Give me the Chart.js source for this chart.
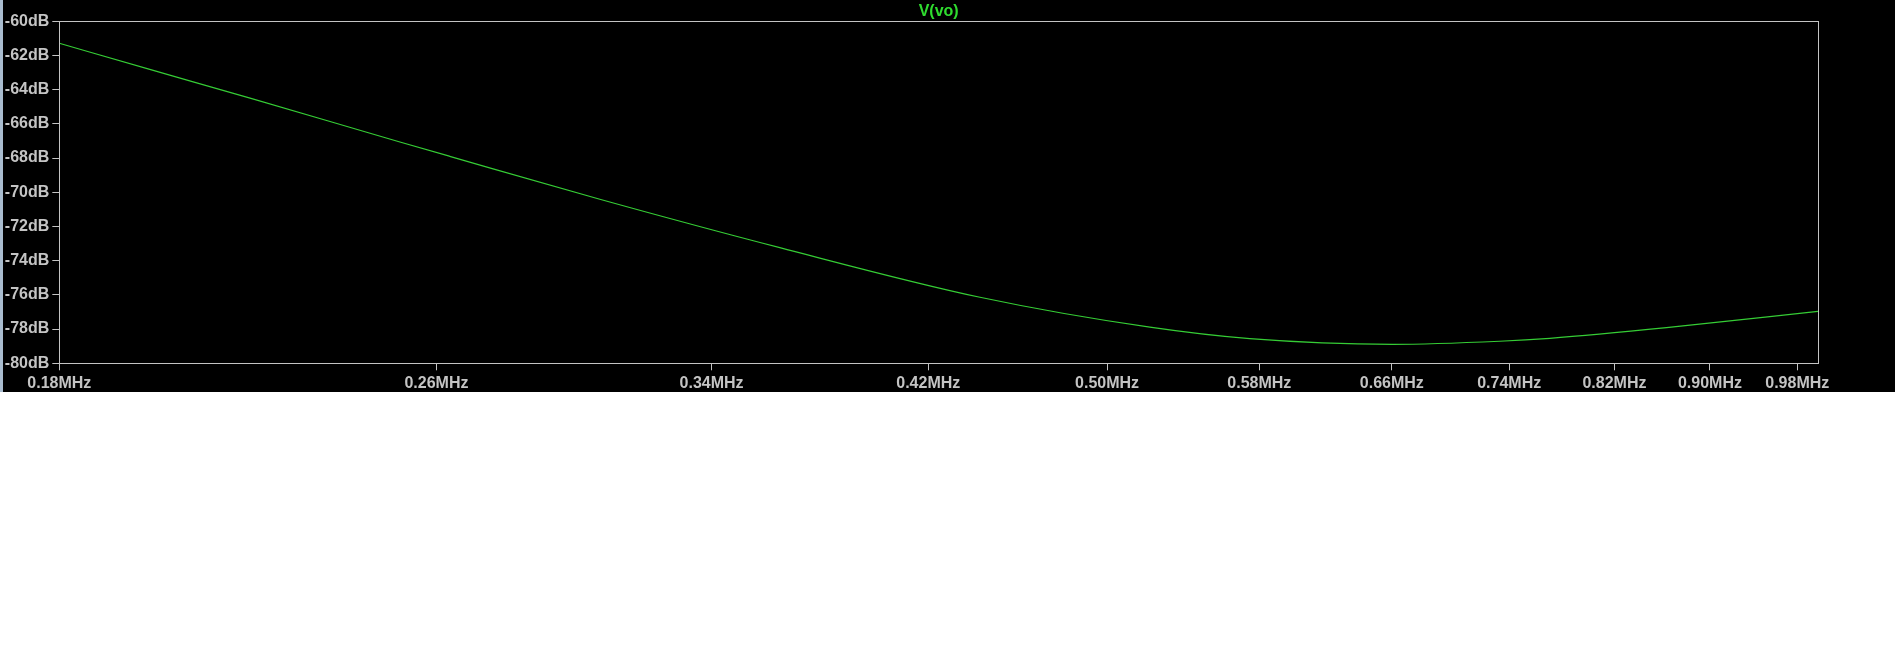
<!DOCTYPE html>
<html>
<head>
<meta charset="utf-8">
<script src="https://cdn.jsdelivr.net/npm/chart.js@4.4.0/dist/chart.umd.min.js"></script>
<style>
  html, body { margin: 0; padding: 0; background: #fff; }
  #wrap { width: 1892px; height: 392px; background: #000; border-left: 3px solid #a9bccf; }
</style>
</head>
<body>
<div id="wrap"><canvas id="plot" width="1892" height="392"></canvas></div>
<script>
// frequency sweep (MHz, dB)
const freqMHz = [0.18, 0.1966, 0.2168, 0.2509, 0.2634, 0.3049, 0.3634, 0.4417, 0.5213, 0.5746, 0.6606, 0.7332, 0.7699, 0.8627, 1.0];
const magDb   = [-61.29, -62.82, -64.5, -67.06, -67.9, -70.41, -73.24, -76.14, -77.89, -78.56, -78.89, -78.71, -78.54, -77.92, -76.96];
const xTickMHz = [0.18, 0.26, 0.34, 0.42, 0.50, 0.58, 0.66, 0.74, 0.82, 0.90, 0.98];
const traceName = 'V(vo)';

const grey = '#c4c4c4';
const font = { family: 'Liberation Sans, Arial', size: 16, weight: 'bold' };

// box around the plot area (LTspice style frame)
const frame = {
  id: 'frame',
  afterDraw(chart) {
    const a = chart.chartArea, c = chart.ctx;
    c.save();
    c.strokeStyle = grey;
    c.lineWidth = 1;
    c.strokeRect(Math.round(a.left) + 0.5, Math.round(a.top) + 0.5, Math.round(a.right - a.left), Math.round(a.bottom - a.top));
    c.restore();
  }
};

new Chart(document.getElementById('plot'), {
  type: 'line',
  data: {
    datasets: [{
      label: traceName,
      data: freqMHz.map((f, i) => ({ x: f, y: magDb[i] })),
      borderColor: '#35cc35',
      borderWidth: 1.2,
      pointRadius: 0,
      cubicInterpolationMode: 'monotone'
    }]
  },
  options: {
    responsive: false,
    animation: false,
    layout: { padding: { left: 0, right: 77, top: 0, bottom: 0 } },
    plugins: {
      legend: { display: false },
      tooltip: { enabled: false },
      title: {
        display: true,
        text: traceName,
        color: '#2fdc2f',
        font: font,
        fullSize: false,
        padding: { top: 2, bottom: 0 }
      }
    },
    scales: {
      x: {
        type: 'logarithmic',
        min: 0.18,
        max: 1.0,
        afterBuildTicks: s => { s.ticks = xTickMHz.map(v => ({ value: v })); },
        afterFit: s => { s.height = 28.7; },
        ticks: {
          color: grey,
          font: font,
          padding: 3.5,
          maxRotation: 0,
          autoSkip: false,
          callback: v => Number(v).toFixed(2) + 'MHz'
        },
        grid: { drawOnChartArea: false, color: grey, tickLength: 7 },
        border: { color: grey }
      },
      y: {
        min: -80,
        max: -60,
        afterFit: s => { s.width = 56.3; },
        ticks: {
          stepSize: 2,
          color: grey,
          font: font,
          padding: 3,
          callback: v => v + 'dB'
        },
        grid: { drawOnChartArea: false, color: grey, tickLength: 7 },
        border: { color: grey }
      }
    }
  },
  plugins: [frame]
});
</script>
</body>
</html>
